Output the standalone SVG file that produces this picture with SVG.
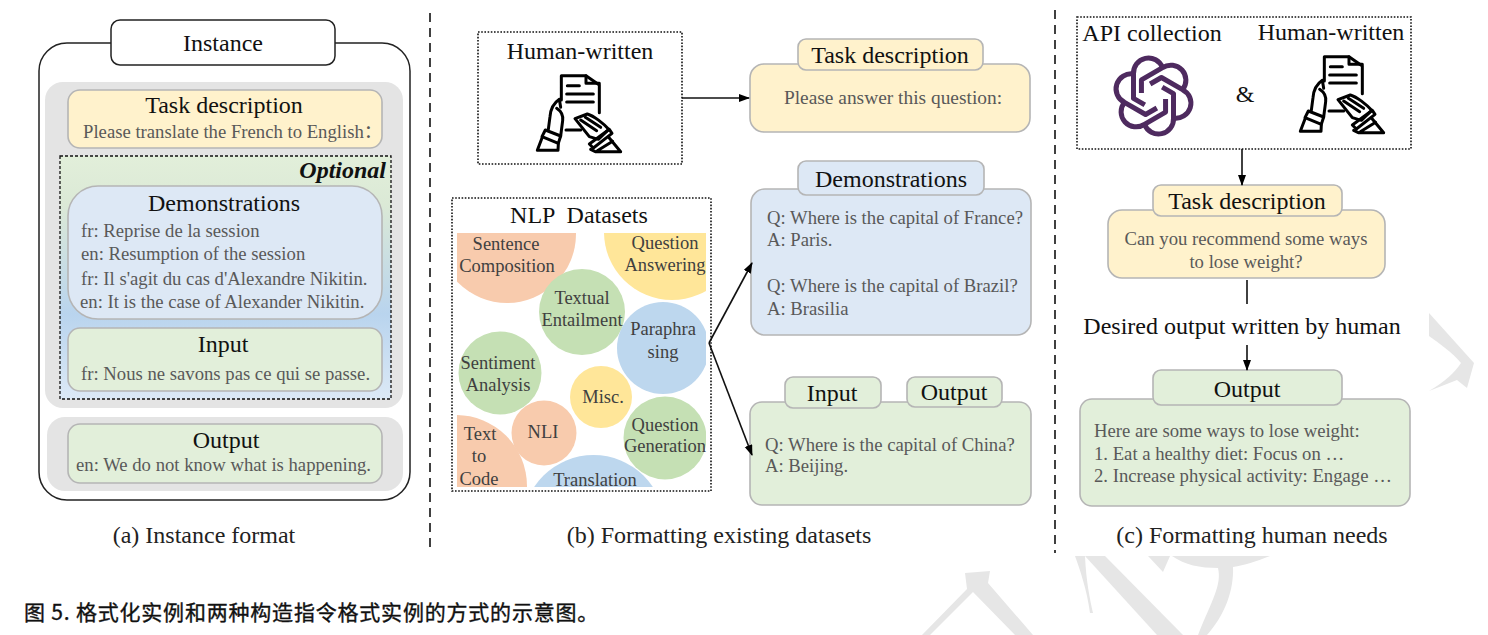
<svg xmlns="http://www.w3.org/2000/svg" xmlns:xlink="http://www.w3.org/1999/xlink" width="1488" height="635" viewBox="0 0 1488 635">
<style>
text{font-family:"Liberation Serif","Noto Sans CJK SC",serif}
.h{font-size:24px;fill:#111;text-anchor:middle}
.g{font-size:18.7px;fill:#595959}
.c{font-size:18.5px;fill:#404040;text-anchor:middle}
.cap{font-size:24px;fill:#222;text-anchor:middle}
.box{stroke:#b5b5b5;stroke-width:1.6}
.y{fill:#fff2cc}.b{fill:#dde8f5}.gr{fill:#e2efda}
.dot{fill:#fff;stroke:#111;stroke-width:1.6;stroke-dasharray:1.6 1.6}
.conn{fill:none;stroke:#111;stroke-width:1.6}
.sep{fill:none;stroke:#111;stroke-width:1.6;stroke-dasharray:9 6}
.wm{fill:#e6e6e6}
.ic{fill:none;stroke:#000;stroke-width:9;stroke-linejoin:round;stroke-linecap:round}
</style>
<defs>
<linearGradient id="optg" x1="0" y1="0" x2="0" y2="1"><stop offset="0" stop-color="#e2efda"/><stop offset="0.2" stop-color="#dbe9d6"/><stop offset="0.65" stop-color="#b9d4ee"/><stop offset="1" stop-color="#dce9f6"/></linearGradient>
<marker id="arr" markerWidth="12" markerHeight="10" refX="10" refY="4" orient="auto" markerUnits="userSpaceOnUse"><path d="M0 0L11 4L0 8Z" fill="#000"/></marker>
<clipPath id="nlp"><rect x="457" y="233" width="249" height="254"/></clipPath>
<symbol id="hand" viewBox="0 0 300 270">
<path class="ic" d="M94 90V17H168L208 45V128"/>
<path class="ic" d="M168 17V40H208"/>
<path class="ic" d="M112 47H148M110 72H190M110 96H190M108 180H152"/>
<path class="ic" d="M88 88C70 100 62 115 60 140L55 178M88 88L92 112M80 115C94 124 100 135 98 152L92 198"/>
<path class="ic" d="M46 180L92 198L85 220L36 200Z"/>
<path class="ic" d="M36 204L22 241H84L85 222"/>
<path class="ic" d="M135 146L172 132C192 138 220 160 236 178L205 208L178 200L135 146Z"/>
<path class="ic" d="M152 150L200 182M166 142L212 172"/>
<path class="ic" d="M238 178L246 190L190 234L178 222Z"/>
<path class="ic" d="M182 238L196 245H272L236 202M202 242L248 214"/>
</symbol>
<path id="petal" d="M-8.700 8.900L-20 2.400V-22A15 15 0 0 1 9 -28.300" fill="none" stroke="#4e2a5f" stroke-width="5" stroke-linejoin="round"/>
</defs>
<rect width="1488" height="635" fill="#fff"/>
<g id="watermark">
<path class="wm" d="M1429 313L1474 363L1467 388L1457 380L1429 391C1445 382 1455 372 1461 363C1452 352 1440 344 1429 336Z"/>
<path class="wm" d="M965 573L990 571L988 583L1033 635H1015L973 592L930 635H922L967 589Z"/>
<path class="wm" d="M1075 556H1085C1086 580 1090 600 1093 613H1090C1087 590 1080 570 1075 556Z"/>
<path class="wm" d="M1085 556H1105L1183 635H1157Z"/>
<path class="wm" d="M1148 556H1170L1163 572Z"/>
<path class="wm" d="M1172 556H1270C1255 562 1245 565 1233 567C1234 590 1225 615 1207 635H1198C1212 600 1222 585 1218 568C1200 568 1185 565 1172 556Z"/>
</g>
<g id="separators">
<path class="sep" d="M430 13V553"/>
<path class="sep" d="M1055 10V553"/>
</g>
<g id="instance">
<rect x="39" y="43" width="371" height="457" rx="28" fill="#fff" stroke="#222" stroke-width="1.5"/>
<rect x="111" y="20" width="224" height="45" rx="9" fill="#fff" stroke="#222" stroke-width="1.5"/>
<text class="h" x="223" y="51">Instance</text>
<rect x="45" y="82" width="358" height="326" rx="18" fill="#e4e4e4"/>
<rect x="47" y="417" width="356" height="74" rx="18" fill="#e4e4e4"/>
</g>
<g id="inst-task">
<rect class="box y" x="68" y="90" width="314" height="58" rx="12"/>
<text class="h" x="224" y="113">Task description</text>
<text class="g" x="83" y="138">Please translate the French to English：</text>
</g>
<g id="inst-optional">
<rect x="60" y="156" width="331" height="243" fill="url(#optg)" stroke="#111" stroke-width="1.3" stroke-dasharray="3 2"/>
<text x="386" y="178" text-anchor="end" font-size="24" font-weight="bold" font-style="italic" fill="#111">Optional</text>
</g>
<g id="inst-demo">
<rect class="box b" x="68" y="186" width="314" height="133" rx="30"/>
<text class="h" x="224" y="211">Demonstrations</text>
<text class="g" x="81" y="237">fr: Reprise de la session</text>
<text class="g" x="81" y="260">en: Resumption of the session</text>
<text class="g" x="81" y="285">fr: Il s'agit du cas d'Alexandre Nikitin.</text>
<text class="g" x="80" y="308">en: It is the case of Alexander Nikitin.</text>
</g>
<g id="inst-input">
<rect class="box gr" x="68" y="328" width="314" height="63" rx="12"/>
<text class="h" x="223" y="352">Input</text>
<text class="g" x="81" y="380">fr: Nous ne savons pas ce qui se passe.</text>
</g>
<g id="inst-output">
<rect class="box gr" x="68" y="424" width="314" height="59" rx="12"/>
<text class="h" x="226" y="448">Output</text>
<text class="g" x="76" y="471">en: We do not know what is happening.</text>
</g>
<text class="cap" x="204" y="543">(a) Instance format</text>
<g id="human-b">
<rect class="dot" x="478" y="32" width="204" height="132"/>
<text class="h" x="580" y="59">Human-written</text>
<use xlink:href="#hand" href="#hand" x="530" y="70" width="100" height="90"/>
</g>
<g id="nlp-datasets">
<rect class="dot" x="452" y="198" width="259" height="293"/>
<text class="h" x="579" y="223" xml:space="preserve">NLP  Datasets</text>
<g clip-path="url(#nlp)">
<circle cx="507" cy="234" r="69" fill="#f8cbad"/>
<circle cx="672" cy="232" r="68" fill="#ffe699"/>
<circle cx="582" cy="312" r="43" fill="#c5e0b4"/>
<circle cx="663" cy="348" r="46" fill="#bdd7ee"/>
<circle cx="500" cy="373" r="41.500" fill="#c5e0b4"/>
<circle cx="601" cy="397" r="31" fill="#ffe699"/>
<circle cx="544" cy="433" r="32.500" fill="#f8cbad"/>
<circle cx="665" cy="438" r="41.500" fill="#c5e0b4"/>
<circle cx="456" cy="486" r="71" fill="#f8cbad"/>
<circle cx="593.500" cy="526" r="71" fill="#bdd7ee"/>
</g>
<text class="c" x="506" y="250">Sentence</text>
<text class="c" x="507" y="272">Composition</text>
<text class="c" x="665" y="249">Question</text>
<text class="c" x="665" y="271">Answering</text>
<text class="c" x="582" y="304">Textual</text>
<text class="c" x="582" y="326">Entailment</text>
<text class="c" x="663" y="335">Paraphra</text>
<text class="c" x="663" y="358">sing</text>
<text class="c" x="498" y="369">Sentiment</text>
<text class="c" x="498" y="391">Analysis</text>
<text class="c" x="603" y="403">Misc.</text>
<text class="c" x="543" y="438">NLI</text>
<text class="c" x="665" y="431">Question</text>
<text class="c" x="665" y="452">Generation</text>
<text class="c" x="480" y="440">Text</text>
<text class="c" x="479" y="462">to</text>
<text class="c" x="479" y="485">Code</text>
<text class="c" x="595" y="486">Translation</text>
</g>
<g id="b-task">
<rect class="box y" x="750" y="64" width="280" height="68" rx="14"/>
<rect class="box y" x="798" y="39" width="185" height="31" rx="8"/>
<text class="h" x="890" y="63">Task description</text>
<text class="g" x="893" y="104" text-anchor="middle" style="font-size:19.400px">Please answer this question:</text>
</g>
<g id="b-demo">
<rect class="box b" x="751" y="189" width="280" height="146" rx="14"/>
<rect class="box b" x="798" y="161" width="186" height="34" rx="8"/>
<text class="h" x="891" y="187">Demonstrations</text>
<text class="g" x="767" y="224">Q: Where is the capital of France?</text>
<text class="g" x="767" y="246">A: Paris.</text>
<text class="g" x="767" y="292">Q: Where is the capital of Brazil?</text>
<text class="g" x="767" y="315">A: Brasilia</text>
</g>
<g id="b-io">
<rect class="box gr" x="750" y="402" width="281" height="103" rx="12"/>
<rect class="box gr" x="785" y="377" width="96" height="31" rx="8"/>
<rect class="box gr" x="907" y="377" width="95" height="30" rx="8"/>
<text class="h" x="832" y="401">Input</text>
<text class="h" x="954" y="400">Output</text>
<text class="g" x="765" y="451">Q: Where is the capital of China?</text>
<text class="g" x="765" y="472">A: Beijing.</text>
</g>
<text class="cap" x="719" y="543">(b) Formatting existing datasets</text>
<g id="sources-c">
<rect class="dot" x="1077" y="17" width="334" height="132"/>
<text class="h" x="1152" y="41">API collection</text>
<text class="h" x="1331" y="40">Human-written</text>
<g id="logo" transform="translate(1153.500,96)">
<use xlink:href="#petal" href="#petal"/>
<use xlink:href="#petal" href="#petal" transform="rotate(60)"/>
<use xlink:href="#petal" href="#petal" transform="rotate(120)"/>
<use xlink:href="#petal" href="#petal" transform="rotate(180)"/>
<use xlink:href="#petal" href="#petal" transform="rotate(240)"/>
<use xlink:href="#petal" href="#petal" transform="rotate(300)"/>
</g>
<text x="1245" y="102" text-anchor="middle" font-size="24" fill="#111">&amp;</text>
<use xlink:href="#hand" href="#hand" x="1293" y="51" width="100" height="90"/>
</g>
<g id="c-task">
<rect class="box y" x="1108" y="210" width="277" height="68" rx="14"/>
<rect class="box y" x="1153" y="185" width="189" height="31" rx="8"/>
<text class="h" x="1247" y="209">Task description</text>
<text class="g" x="1246" y="245" text-anchor="middle">Can you recommend some ways</text>
<text class="g" x="1246" y="268" text-anchor="middle">to lose weight?</text>
</g>
<text id="c-desired" class="h" x="1242" y="334">Desired output written by human</text>
<g id="c-output">
<rect class="box gr" x="1080" y="399" width="330" height="107" rx="12"/>
<rect class="box gr" x="1153" y="370" width="189" height="35" rx="8"/>
<text class="h" x="1247" y="397">Output</text>
<text class="g" x="1094" y="437">Here are some ways to lose weight:</text>
<text class="g" x="1094" y="460">1. Eat a healthy diet: Focus on …</text>
<text class="g" x="1094" y="482">2. Increase physical activity: Engage …</text>
</g>
<text class="cap" x="1252" y="543">(c) Formatting human needs</text>
<g id="connectors">
<path class="conn" d="M682 98H749" marker-end="url(#arr)"/>
<path class="conn" d="M709 343L752 263" marker-end="url(#arr)"/>
<path class="conn" d="M709 343L752 455" marker-end="url(#arr)"/>
<path class="conn" d="M1242 149V185" marker-end="url(#arr)"/>
<path class="conn" d="M1247 280V304"/>
<path class="conn" d="M1247 345V370" marker-end="url(#arr)"/>
</g>
<text id="caption" x="24" y="620" font-size="21" letter-spacing="0.8" fill="#111" stroke="#111" stroke-width="0.35" style="font-family:'Noto Sans CJK SC','Noto Sans',sans-serif">图 5. 格式化实例和两种构造指令格式实例的方式的示意图。</text>
</svg>
